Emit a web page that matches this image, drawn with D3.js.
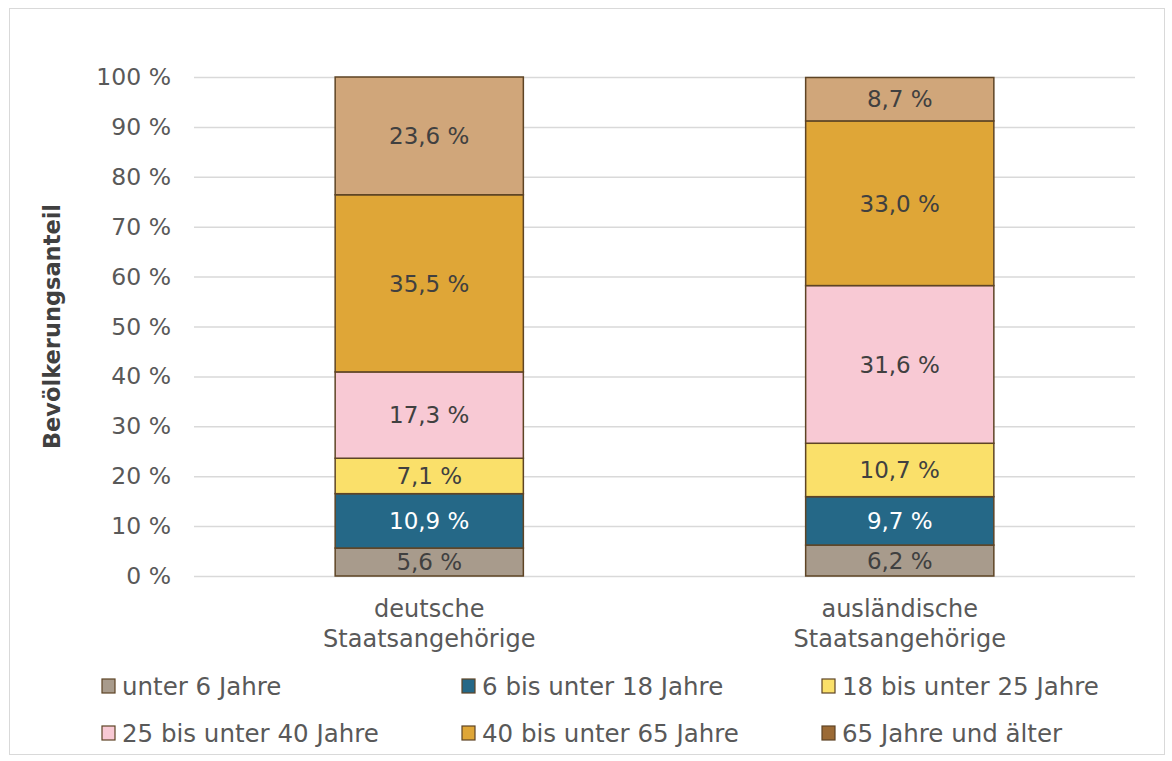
<!DOCTYPE html>
<html>
<head>
<meta charset="utf-8">
<script src="https://cdn.jsdelivr.net/npm/d3@7"></script>
<style>
  body { margin: 0; background: #fff; }
  text { font-family: "DejaVu Sans", sans-serif; }
</style>
</head>
<body>
<script>
// 100% gestapelte Säulen: Altersstruktur deutsch / ausländisch

var categories = ["deutsche|Staatsangehörige", "ausländische|Staatsangehörige"];
var series = ["unter 6 Jahre", "6 bis unter 18 Jahre", "18 bis unter 25 Jahre",
              "25 bis unter 40 Jahre", "40 bis unter 65 Jahre", "65 Jahre und älter"];
var deutsche = [5.6, 10.9, 7.1, 17.3, 35.5, 23.6];
var auslaendische = [6.2, 9.7, 10.7, 31.6, 33.0, 8.7];
var yTicks = [0, 10, 20, 30, 40, 50, 60, 70, 80, 90, 100];

var barColors = ["#a89b8c", "#256887", "#fae06a", "#f8c9d4", "#dfa637", "#d0a67a"];
var legendColors = ["#a89b8c", "#256887", "#fae06a", "#f8c9d4", "#dfa637", "#9b6a35"];
var labelColors = ["#404040", "#ffffff", "#404040", "#404040", "#404040", "#404040"];

var width = 1172, height = 761;
var margin = {top: 77, right: 37, bottom: 185, left: 194};

var svg = d3.select("body").append("svg")
    .attr("width", width)
    .attr("height", height);

// chart frame
svg.append("rect")
    .attr("x", 9.5).attr("y", 8.5)
    .attr("width", 1155).attr("height", 746)
    .attr("fill", "#fff")
    .attr("stroke", "#d9d9d9");

var x = d3.scaleBand()
    .domain(categories)
    .range([margin.left, width - margin.right])
    .paddingInner(0.6)
    .paddingOuter(0.3);

var y = d3.scaleLinear()
    .domain([0, 100])
    .range([height - margin.bottom, margin.top]);

var fmt = function(v) { return d3.format(".1f")(v).replace(".", ",") + " %"; };

// gridlines + y labels
var yAxis = d3.axisLeft(y)
    .tickValues(yTicks)
    .tickSize(-(width - margin.left - margin.right))
    .tickPadding(23)
    .tickFormat(function(d) { return d + " %"; });

var gy = svg.append("g")
    .attr("transform", "translate(" + margin.left + ",0)")
    .call(yAxis);
gy.select(".domain").remove();
gy.selectAll(".tick line").attr("stroke", "#d9d9d9").attr("stroke-width", 1.5);
gy.selectAll(".tick text")
    .attr("fill", "#595959")
    .style("font-size", "23.5px");

// stacked data
var rows = [deutsche, auslaendische].map(function(vals, i) {
  var o = {cat: categories[i]};
  series.forEach(function(s, j) { o[s] = vals[j]; });
  return o;
});
var stacked = d3.stack().keys(series)(rows);

var layer = svg.selectAll("g.layer")
  .data(stacked)
  .enter().append("g")
  .attr("class", "layer");

layer.selectAll("rect")
  .data(function(d, i) { return d.map(function(p) { return {p: p, i: i}; }); })
  .enter().append("rect")
  .attr("x", function(d) { return x(d.p.data.cat); })
  .attr("y", function(d) { return y(d.p[1]); })
  .attr("width", x.bandwidth())
  .attr("height", function(d) { return y(d.p[0]) - y(d.p[1]); })
  .attr("fill", function(d) { return barColors[d.i]; })
  .attr("stroke", "#5e4425")
  .attr("stroke-width", 1.5);

layer.selectAll("text")
  .data(function(d, i) { return d.map(function(p) { return {p: p, i: i}; }); })
  .enter().append("text")
  .attr("x", function(d) { return x(d.p.data.cat) + x.bandwidth() / 2; })
  .attr("y", function(d) { return (y(d.p[0]) + y(d.p[1])) / 2; })
  .attr("dy", "0.36em")
  .attr("text-anchor", "middle")
  .attr("fill", function(d) { return labelColors[d.i]; })
  .style("font-size", "23px")
  .text(function(d) { return fmt(d.p[1] - d.p[0]); });

// x labels
var gx = svg.append("g");
categories.forEach(function(c) {
  var t = gx.append("text")
      .attr("x", x(c) + x.bandwidth() / 2)
      .attr("y", 617)
      .attr("text-anchor", "middle")
      .attr("fill", "#595959")
      .style("font-size", "24px");
  c.split("|").forEach(function(line, k) {
    t.append("tspan")
      .attr("x", x(c) + x.bandwidth() / 2)
      .attr("dy", k === 0 ? 0 : 30)
      .text(line);
  });
});

// y title
svg.append("text")
    .attr("transform", "translate(60," + y(50) + ") rotate(-90)")
    .attr("text-anchor", "middle")
    .attr("fill", "#404040")
    .style("font-size", "22.5px")
    .style("font-weight", "bold")
    .text("Bevölkerungsanteil");

// legend
var legendX = [102, 462, 822];
var legendY = [686, 733];
var legend = svg.selectAll("g.legend")
  .data(series)
  .enter().append("g")
  .attr("class", "legend")
  .attr("transform", function(d, i) {
    return "translate(" + legendX[i % 3] + "," + legendY[Math.floor(i / 3)] + ")";
  });

legend.append("rect")
  .attr("x", 0).attr("y", -7)
  .attr("width", 13).attr("height", 14)
  .attr("fill", function(d, i) { return legendColors[i]; })
  .attr("stroke", "#5e4425")
  .attr("stroke-width", 1.2);

legend.append("text")
  .attr("x", 20)
  .attr("dy", "0.36em")
  .attr("fill", "#595959")
  .style("font-size", "24.5px")
  .text(function(d) { return d; });
</script>
</body>
</html>
